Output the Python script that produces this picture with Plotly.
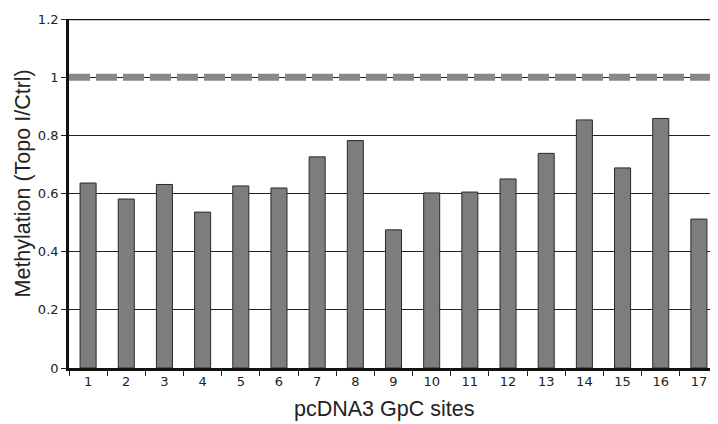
import plotly.graph_objects as go

sites = [str(i) for i in range(1, 18)]
methylation = [0.636, 0.581, 0.631, 0.536, 0.626, 0.619, 0.726, 0.782, 0.475,
               0.602, 0.605, 0.650, 0.738, 0.853, 0.688, 0.858, 0.512]
y_ticks = [0, 0.2, 0.4, 0.6, 0.8, 1.0, 1.2]
y_tick_labels = ["0", "0.2", "0.4", "0.6", "0.8", "1", "1.2"]
reference_level = 1.0

fig = go.Figure()
fig.add_trace(go.Bar(
    x=sites, y=methylation, width=0.42,
    marker=dict(color="#7d7d80", line=dict(color="#2a2a2a", width=1)),
))

fig.add_shape(type="line", xref="paper", yref="y", x0=0, x1=1,
              y0=reference_level, y1=reference_level,
              line=dict(color="#88888b", width=7, dash="21px,6px"), layer="above")
fig.add_shape(type="line", xref="paper", yref="y", x0=0, x1=1, y0=1.2, y1=1.2,
              line=dict(color="#1a1a1a", width=2.5), layer="above")

title_font = dict(family="Liberation Sans, Arial", size=21.5, color="#222")
fig.add_annotation(text="pcDNA3 GpC sites", xref="paper", yref="paper",
                   x=0.485, y=-0.1175, xanchor="center", yanchor="middle",
                   showarrow=False, font=title_font)
fig.add_annotation(text="Methylation (Topo I/Ctrl)", xref="paper", yref="paper",
                   x=-0.0709, y=0.5287, xanchor="center", yanchor="middle",
                   textangle=-90, showarrow=False, font=title_font)

fig.update_layout(
    width=710, height=416,
    margin=dict(l=61, r=0, t=11, b=56),
    paper_bgcolor="white", plot_bgcolor="white",
    showlegend=False,
)
fig.update_xaxes(
    type="category", tickson="boundaries",
    ticks="outside", ticklen=5, tickwidth=1, tickcolor="#222",
    showline=True, linecolor="#111", linewidth=2.7,
    showgrid=False,
    tickfont=dict(family="DejaVu Sans", size=13, color="#222"),
)
fig.update_yaxes(
    range=[0, 1.2], tickvals=y_ticks, ticktext=y_tick_labels,
    ticks="outside", ticklen=5, tickwidth=1, tickcolor="#222",
    showline=True, linecolor="#111", linewidth=2.7,
    showgrid=True, gridcolor="#222", gridwidth=1,
    zeroline=False,
    tickfont=dict(family="DejaVu Sans", size=13, color="#222"),
)

fig.write_html("out.html")
